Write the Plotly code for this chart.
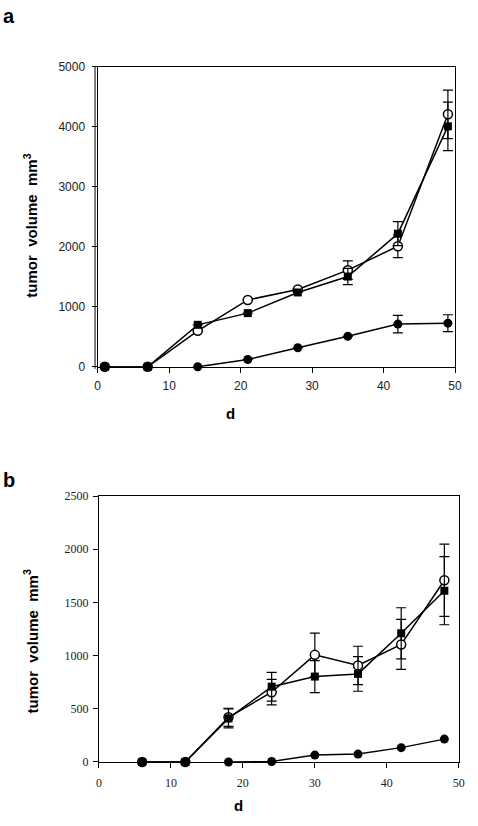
import plotly.graph_objects as go

W, H = 478, 826

# ---------------- data: panel a ----------------
a_days_sq = [1, 7, 14, 21, 28, 35, 42, 49]
a_sq = [0, 0, 700, 895, 1240, 1505, 2220, 4010]
a_sq_err = [0, 0, 0, 0, 0, 136, 200, 405]

a_days_open = [1, 7, 14, 21, 28, 35, 42, 49]
a_open = [0, 0, 600, 1115, 1290, 1612, 2010, 4210]
a_open_err = [0, 0, 0, 0, 0, 154, 190, 405]

a_days_fill = [14, 21, 28, 35, 42, 49]
a_fill = [0, 122, 318, 508, 712, 728]
a_fill_err = [0, 0, 0, 0, 145, 140]

# ---------------- data: panel b ----------------
b_days_sq = [6, 12, 18, 24, 30, 36, 42, 48]
b_sq = [0, 0, 410, 708, 803, 828, 1210, 1610]
b_sq_err = [0, 0, 90, 135, 150, 163, 240, 320]

b_days_open = [6, 12, 18, 24, 30, 36, 42, 48]
b_open = [0, 0, 420, 656, 1007, 908, 1105, 1709]
b_open_err = [0, 0, 85, 120, 205, 180, 235, 340]

b_days_fill = [18, 24, 30, 36, 42, 48]
b_fill = [0, 5, 65, 74, 135, 215]

x_ticks = [0, 10, 20, 30, 40, 50]
a_y_ticks = [0, 1000, 2000, 3000, 4000, 5000]
b_y_ticks = [0, 500, 1000, 1500, 2000, 2500]


def px(x):
    return x / W


def py(y):
    return 1 - y / H


LINE = dict(color="black", width=1.5)


def err(arr):
    return dict(type="data", array=arr, visible=True, color="black",
                thickness=1.2, width=5)


fig = go.Figure()

# panel a traces
fig.add_trace(go.Scatter(x=a_days_fill, y=a_fill, mode="lines+markers", line=LINE,
                         marker=dict(symbol="circle", size=9, color="black"),
                         error_y=err(a_fill_err), xaxis="x", yaxis="y", cliponaxis=False))
fig.add_trace(go.Scatter(x=a_days_open, y=a_open, mode="lines+markers", line=LINE,
                         marker=dict(symbol="circle", size=9, color="white",
                                     line=dict(color="black", width=1.5)),
                         error_y=err(a_open_err), xaxis="x", yaxis="y", cliponaxis=False))
fig.add_trace(go.Scatter(x=a_days_sq, y=a_sq, mode="lines+markers", line=LINE,
                         marker=dict(symbol="square", size=8, color="black"),
                         error_y=err(a_sq_err), xaxis="x", yaxis="y", cliponaxis=False))

# panel b traces
fig.add_trace(go.Scatter(x=b_days_fill, y=b_fill, mode="lines+markers", line=LINE,
                         marker=dict(symbol="circle", size=9, color="black"),
                         xaxis="x2", yaxis="y2", cliponaxis=False))
fig.add_trace(go.Scatter(x=b_days_open, y=b_open, mode="lines+markers", line=LINE,
                         marker=dict(symbol="circle", size=9, color="white",
                                     line=dict(color="black", width=1.5)),
                         error_y=err(b_open_err), xaxis="x2", yaxis="y2", cliponaxis=False))
fig.add_trace(go.Scatter(x=b_days_sq, y=b_sq, mode="lines+markers", line=LINE,
                         marker=dict(symbol="square", size=8, color="black"),
                         error_y=err(b_sq_err), xaxis="x2", yaxis="y2", cliponaxis=False))

sans = "Liberation Sans, Arial, sans-serif"
serif = "Liberation Serif, Times New Roman, serif"

axis_common = dict(showgrid=False, zeroline=False, showline=True, linecolor="black",
                   linewidth=1.3, mirror=True, ticks="outside", ticklen=5,
                   tickwidth=1.2, tickcolor="black")

fig.update_layout(
    width=W, height=H,
    margin=dict(l=0, r=0, t=0, b=0),
    paper_bgcolor="white", plot_bgcolor="white",
    showlegend=False,
    xaxis=dict(domain=[px(96.7), px(461.7)], range=[0, 50], anchor="y",
               tickvals=x_ticks, tickfont=dict(family=sans, size=12, color="#222"),
               ticklabelstandoff=3, **axis_common),
    yaxis=dict(domain=[py(366), py(61)], range=[0, 5000], anchor="x",
               tickvals=a_y_ticks, tickfont=dict(family=sans, size=12, color="#222"),
               ticklabelstandoff=4, **axis_common),
    xaxis2=dict(domain=[px(98), px(465.5)], range=[0, 50], anchor="y2",
                tickvals=x_ticks, tickfont=dict(family=serif, size=12, color="#222"),
                ticklabelstandoff=4, **axis_common),
    yaxis2=dict(domain=[py(768), py(497.5)], range=[0, 2500], anchor="x2",
                tickvals=b_y_ticks, tickfont=dict(family=serif, size=12, color="#222"),
                ticklabelstandoff=2, **axis_common),
)

ytitle = "<b>tumor\u00a0\u00a0volume\u00a0\u00a0mm<sup>3</sup></b>"
ann = [
    dict(text="<b>a</b>", x=px(6), y=py(9), font=dict(family=sans, size=20)),
    dict(text="<b>b</b>", x=px(6), y=py(481), font=dict(family=sans, size=20)),
    dict(text=ytitle, x=px(28), y=py(222), textangle=-90, font=dict(family=sans, size=15)),
    dict(text=ytitle, x=px(28), y=py(645), textangle=-90, font=dict(family=sans, size=15)),
    dict(text="<b>d</b>", x=px(232), y=py(414), font=dict(family=sans, size=15)),
    dict(text="<b>d</b>", x=px(241), y=py(812), font=dict(family=sans, size=15)),
]
for a in ann:
    a.update(xref="paper", yref="paper", showarrow=False, xanchor="center", yanchor="middle")
    a["font"]["color"] = "black"
fig.update_layout(annotations=ann)

# scanned double line on the left edge of panel a
fig.add_shape(type="line", xref="paper", yref="paper",
              x0=px(94), x1=px(94), y0=py(368), y1=py(61),
              line=dict(color="black", width=1))

fig.write_html("out.html")
